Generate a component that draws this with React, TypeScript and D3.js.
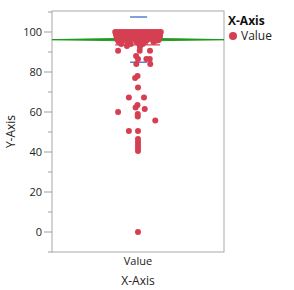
import React from "react";
import * as d3 from "d3";

const categories = ["Value"];
const yTicks = [0, 20, 40, 60, 80, 100];
const yMinorTicks = [-10, 10, 30, 50, 70, 90, 110];

// values and horizontal jitter (-1..1 of jitter band)
const pointValues = [
  100, 100, 100, 100, 100, 100, 100, 100, 100, 100, 100, 100, 100, 100, 100, 100, 100, 100, 100, 100,
  99, 99, 99, 99, 99, 99, 99, 99, 99, 99, 99, 99, 99, 99, 99, 99,
  98, 98, 98, 98, 98, 98, 98, 98, 98, 98, 98, 98, 98, 98,
  97, 97, 97, 97, 97, 97, 97, 97, 97, 97, 97, 97,
  96, 96, 96, 96, 96, 96, 96, 96,
  95, 95, 95, 95, 95,
  94, 94, 94, 94,
  93, 92.5, 95.7, 90.6, 90.6, 90.6, 88, 86.5, 86.5, 86.5, 84, 84,
  78, 77, 72.3, 67.3, 67.3, 63.5, 62.3, 61.5, 60, 59, 57.8, 55.7,
  50.5, 50.5, 46.5, 45, 43.5, 42, 40.5, 0,
];
const pointJitter = [
  -0.95, -0.85, -0.75, -0.65, -0.55, -0.45, -0.35, -0.25, -0.15, -0.05, 0.05, 0.15, 0.25, 0.35, 0.45, 0.55, 0.65, 0.75, 0.85, 0.95,
  -0.92, -0.8, -0.68, -0.56, -0.44, -0.32, -0.2, -0.08, 0.04, 0.16, 0.28, 0.4, 0.52, 0.64, 0.76, 0.9,
  -0.9, -0.76, -0.62, -0.48, -0.34, -0.2, -0.06, 0.08, 0.22, 0.36, 0.5, 0.64, 0.78, 0.92,
  -0.88, -0.72, -0.56, -0.4, -0.24, -0.08, 0.08, 0.24, 0.4, 0.56, 0.72, 0.88,
  -0.85, -0.6, -0.35, -0.1, 0.12, 0.38, 0.62, 0.86,
  -0.8, -0.45, -0.05, 0.3, 0.65,
  -0.7, -0.3, 0.05, 0.2,
  -0.46, 0.08, 0.8, -0.83, 0.5, 0.07, -0.08, 0, 0.35, 0.49, 0.51, -0.07,
  -0.02, -0.12, 0, -0.38, 0.25, -0.02, -0.1, 0.28, -0.83, -0.01, -0.01, 0.72,
  -0.38, 0, 0, 0, 0, 0, 0, 0,
];

const meanValue = 96.2;
const meanCI = 0.75;
const sdValue = 11.3;
const refLineValue = 93.6;

const W = 294;
const H = 290;
const plot = { left: 52, right: 224, top: 11, bottom: 252 };
const RED = "#d63f52";

export default function App() {
  const y = d3.scaleLinear().domain([-10, 110.5]).range([plot.bottom, plot.top]);
  const xBand = d3.scaleBand().domain(categories).range([plot.left, plot.right]);
  const cx = (xBand(categories[0]) as number) + xBand.bandwidth() / 2;
  const jx = d3.scaleLinear().domain([-1, 1]).range([cx - 24, cx + 24]);

  const diamond = [
    [plot.left, y(meanValue)],
    [cx, y(meanValue + meanCI)],
    [plot.right, y(meanValue)],
    [cx, y(meanValue - meanCI)],
  ];
  const font = "'Open Sans', 'DejaVu Sans', sans-serif";

  return (
    <svg width={W} height={H} style={{ position: "absolute", left: 0, top: 0 }} fontFamily={font}>
      <rect width={W} height={H} fill="#fff" />
      <rect x={plot.left} y={plot.top} width={plot.right - plot.left} height={plot.bottom - plot.top}
        fill="none" stroke="#a8a8a8" strokeWidth={1} />
      {yTicks.map((t) => (
        <g key={t}>
          <line x1={plot.left - 8} x2={plot.left} y1={y(t)} y2={y(t)} stroke="#a0a0a0" />
          <text x={plot.left - 10} y={y(t)} dy="0.35em" textAnchor="end" fontSize={11} fill="#222">{t}</text>
        </g>
      ))}
      {yMinorTicks.map((t) => (
        <line key={t} x1={plot.left - 4} x2={plot.left} y1={y(t)} y2={y(t)} stroke="#a0a0a0" />
      ))}
      {[meanValue + sdValue, meanValue - sdValue].map((v, i) => (
        <line key={i} x1={jx(-0.33)} x2={jx(0.38)} y1={y(v)} y2={y(v)} stroke="#2f5fc8" strokeWidth={1.2} />
      ))}
      <polygon points={diamond.map((p) => p.join(",")).join(" ")} fill="#8fd48f" stroke="#2a9d2a" strokeWidth={1} />
      <line x1={plot.left} x2={plot.right} y1={y(meanValue)} y2={y(meanValue)} stroke="#1f9a1f" strokeWidth={1.2} />
      <line x1={jx(-0.95)} x2={jx(0.92)} y1={y(refLineValue)} y2={y(refLineValue)} stroke={RED} strokeWidth={1.2} />
      {pointValues.map((v, i) => (
        <circle key={i} cx={jx(pointJitter[i])} cy={y(v)} r={3} fill={RED} />
      ))}
      <text transform={`translate(11,${(plot.top + plot.bottom) / 2}) rotate(-90)`} textAnchor="middle" dy="0.35em" fontSize={12} fill="#222">Y-Axis</text>
      <text x={cx} y={261} dy="0.35em" textAnchor="middle" fontSize={11} fill="#222">{categories[0]}</text>
      <text x={cx} y={281} dy="0.35em" textAnchor="middle" fontSize={12} fill="#222">X-Axis</text>
      <text x={228} y={21} dy="0.35em" fontSize={12} fontWeight="bold" fill="#111">X-Axis</text>
      <circle cx={233} cy={36} r={4} fill={RED} />
      <text x={241} y={36} dy="0.35em" fontSize={12} fill="#222">Value</text>
    </svg>
  );
}
